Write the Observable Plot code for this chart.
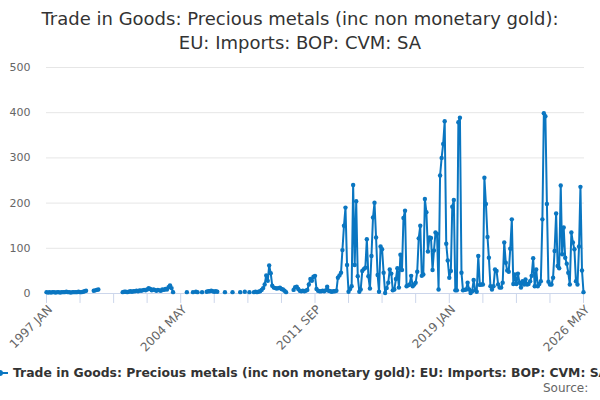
<!DOCTYPE html>
<html>
<head>
<meta charset="utf-8">
<script src="https://cdn.jsdelivr.net/npm/d3@7"></script>
<script src="https://cdn.jsdelivr.net/npm/@observablehq/plot@0.6"></script>
<style>
  body { margin: 0; background: #fff; font-family: "DejaVu Sans", sans-serif; }
  #wrap { position: relative; width: 600px; height: 400px; overflow: hidden; background: #fff; }
  #chart { position: absolute; left: 0; top: 0; }
  #title { position: absolute; top: 7px; left: 0; width: 600px; text-align: center; font-size: 18px; line-height: 24px; color: #333; }
  #legend { position: absolute; top: 365px; left: -8px; white-space: nowrap; font-size: 12.4px; font-weight: bold; color: #333; display: flex; align-items: center; }
  #legend svg { margin-right: 5px; }
  #source { position: absolute; top: 381px; left: 543px; font-size: 12px; color: #666; white-space: nowrap; }
</style>
</head>
<body>
<div id="wrap">
  <div id="chart"></div>
  <div id="title">Trade in Goods: Precious metals (inc non monetary gold):<br>EU: Imports: BOP: CVM: SA</div>
  <div id="legend"></div>
  <div id="source">Source:</div>
</div>
<script>
// ---- data (monthly) ----
const seriesName = "Trade in Goods: Precious metals (inc non monetary gold): EU: Imports: BOP: CVM: SA";
const lineColor = "#0a76c1";

const run1997 = [3,2,3,2,3,3,2,3,3,2,3,3,3,4,3,3,2,3,3,3,3,4,3,3,4,5,6];
const run1999 = [6,7,8,9];
const run2001 = [3,4,4,3,4,5,4,5,5,6, 5,7,6,7,8,7,9,12,10,7, 9,8,6,8,7,6,9,8,10,9, 14,18,12,3];
const run2005 = [4,5,5,6,5,4,5,4];
const run2008 = [3,4,3,4,5,8,12,20,40,28,62,45,17,13,12,11,12,13,10,9,6,3];
const run2010 = [8,14,15,10,6,5,6,5,6,8, 20,32,28,37,39,10,6,5,5,6, 5,7,15,6,5,4,5,5,6];
const run2012 = [35,40,46,96,150,190,63,4,10,16,
                 240,63,204,38,4,9,50,54,57,120,
                 38,11,83,168,201,124,41,4,104,98,
                 46,1,12,24,53,44,7,9,32,56,
                 13,86,52,167,183,16,18,20,39,16,
                 20,24,48,122,150,39,42,209,180,93,
                 124,123,52,95,135,132,9,261,300,331,
                 381,110,73,35,50,192,207,7,7,379,389];
const run2019 = [46,7,8,9,24,9,1,5,30,7,
                 4,83,19,20,20,256,198,125,79,16,
                 9,16,53,50,20,13,13,24,113,68,
                 51,48,99,164,21,42,21,44,24,13,
                 27,20,31,20,21,27,39,78,16,53,
                 16,21,27,164,399,392,198,26,20,20,
                 35,94,177,61,56,239,87,146,79,66,
                 46,20,135,113,98,27,20,104,236,51,3];

// contiguous runs: [first month, values]
const segments = [
  ["1997-01", run1997],
  ["1999-08", run1999],
  ["2001-03", run2001],
  ["2004-09", [3]],
  ["2005-01", [3]],
  ["2005-03", [4,3]],
  ["2005-07", [3]],
  ["2005-10", run2005],
  ["2006-10", [3]],
  ["2007-03", [3]],
  ["2007-08", [3]],
  ["2007-11", [4]],
  ["2008-02", [3]],
  ["2008-05", run2008],
  ["2010-07", [...run2010, ...run2012, ...run2019]]
];

const xTickLabels = ["1997 JAN", "2004 MAY", "2011 SEP", "2019 JAN", "2026 MAY"];
const xTickStep = 22; // months between minor ticks
const yTicks = [0, 100, 200, 300, 400, 500];
const firstMonth = "1997-01";
const lastMonth = "2026-05";

// ---- build table ----
const parse = d3.utcParse("%Y-%m");
const data = [];
segments.forEach(([start, vals], s) => {
  const d0 = parse(start);
  vals.forEach((v, i) => data.push({date: d3.utcMonth.offset(d0, i), value: v, seg: s}));
});
const xStart = parse(firstMonth), xEnd = parse(lastMonth);
const tickDates = d3.utcMonth.range(xStart, d3.utcMonth.offset(xEnd, 1), xTickStep);
const labelDates = xTickLabels.map((_, i) => d3.utcMonth.offset(xStart, i * xTickStep * 4));

const chart = Plot.plot({
  width: 600,
  height: 400,
  marginTop: 67,
  marginBottom: 107,
  marginLeft: 46,
  marginRight: 16,
  style: {fontFamily: "DejaVu Sans", fontSize: "11px", background: "transparent"},
  x: {type: "utc", domain: [xStart, xEnd], axis: null, insetRight: 1},
  y: {domain: [0, 500], axis: null},
  marks: [
    Plot.ruleY(yTicks.filter(d => d > 0), {stroke: "#e6e6e6", strokeWidth: 1}),
    Plot.ruleY([0], {stroke: "#ccd6eb", strokeWidth: 1}),
    Plot.ruleX(tickDates, {x: d => d, y1: 0, y2: -22, stroke: "#ccd6eb", strokeWidth: 1}),
    Plot.text(yTicks, {y: d => d, frameAnchor: "left", dx: -16, textAnchor: "end", text: d => String(d), fill: "#666", fontSize: 11}),
    Plot.text(labelDates, {x: d => d, y: 0, text: (d, i) => xTickLabels[i], rotate: -45, textAnchor: "end", dx: 4, dy: 14, fill: "#666", fontSize: 12}),
    Plot.line(data, {x: "date", y: "value", z: "seg", stroke: lineColor, strokeWidth: 2, curve: "linear"}),
    Plot.dot(data, {x: "date", y: "value", r: 2.2, fill: lineColor, stroke: "none"})
  ]
});
document.getElementById("chart").appendChild(chart);

// legend
const legend = document.getElementById("legend");
legend.innerHTML = `<svg width="16" height="12"><line x1="0" y1="6" x2="16" y2="6" stroke="${lineColor}" stroke-width="2"/><circle cx="8" cy="6" r="3" fill="${lineColor}"/></svg><span></span>`;
legend.querySelector("span").textContent = seriesName;
</script>
</body>
</html>
